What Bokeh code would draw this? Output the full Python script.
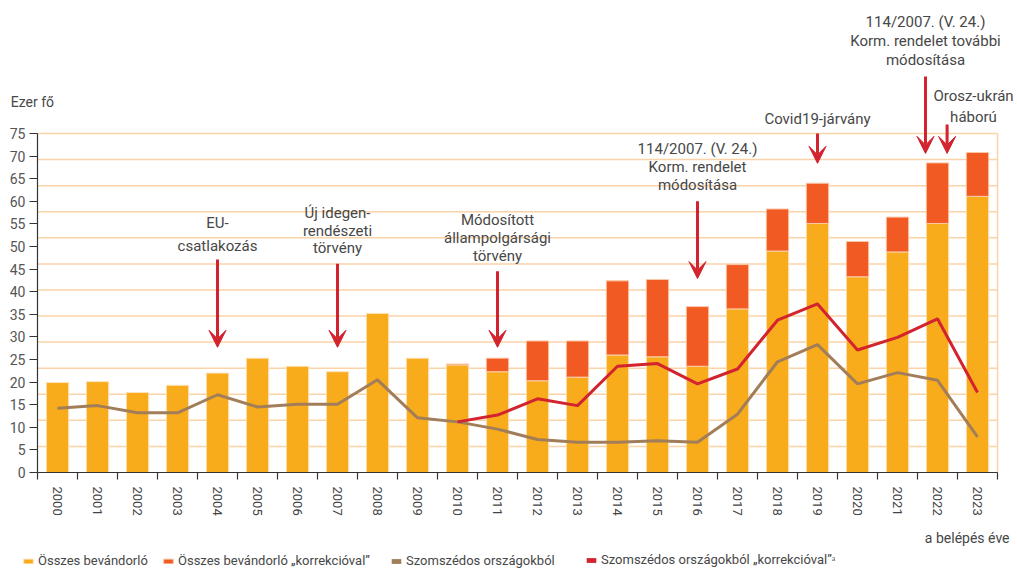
import numpy as np
from bokeh.plotting import figure
from bokeh.models import (FixedTicker, Label, Arrow, VeeHead, Legend, LegendItem,
                          Range1d, ColumnDataSource)
from bokeh.embed import file_html
from bokeh.resources import INLINE

# ---------------- data ----------------
years = list(range(2000, 2024))
osszes = [19.9, 20.1, 17.7, 19.3, 22.0, 25.3, 23.5, 22.3, 35.2, 25.3, 23.8, 22.3,
          20.3, 21.1, 26.0, 25.6, 23.5, 36.2, 49.0, 55.1, 43.3, 48.8, 55.1, 61.1]
osszes_korr = [None] * 10 + [24.0, 25.3, 29.1, 29.1, 42.4, 42.7, 36.7, 46.0,
                             58.3, 64.0, 51.1, 56.5, 68.5, 70.8]
szomszed = [14.2, 14.8, 13.2, 13.2, 17.2, 14.5, 15.1, 15.1, 20.5, 12.1, 11.2, 9.6,
            7.3, 6.7, 6.7, 7.0, 6.7, 12.9, 24.5, 28.3, 19.6, 22.1, 20.4, 7.9]
szomszed_korr = [None] * 10 + [11.2, 12.7, 16.3, 14.8, 23.5, 24.1, 19.6, 22.9,
                               33.7, 37.3, 27.1, 29.9, 34.0, 17.7]
y_ticks = list(range(0, 80, 5))
series_names = ["Összes bevándorló", "Összes bevándorló „korrekcióval”",
                "Szomszédos országokból", "Szomszédos országokból „korrekcióval”ᵃ"]

# annotations: (arrow x, text x, text lines, text y's, arrow start, arrow end)
annotations = [
    (2004, 2004, ["EU-", "csatlakozás"], [55.1, 50.2], 47.1, 27.7),
    (2007, 2007, ["Új idegen-", "rendészeti", "törvény"], [57.4, 53.5, 49.6], 46.2, 27.7),
    (2011, 2011, ["Módosított", "állampolgársági", "törvény"], [55.9, 51.8, 47.9], 44.5, 27.7),
    (2016, 2016, ["114/2007. (V. 24.)", "Korm. rendelet", "módosítása"], [71.5, 67.5, 63.5], 60.0, 42.9),
    (2019, 2019, ["Covid19-járvány"], [78.3], 75.0, 68.4),
    (2021.7, 2021.7, ["114/2007. (V. 24.)", "Korm. rendelet további", "módosítása"], [99.6, 95.4, 91.3], 87.6, 70.6),
    (2022.24, 2022.9, ["Orosz-ukrán", "háború"], [83.4, 78.6], 77.0, 70.6),
]

YELLOW = "#F9AC1B"
ORANGE = "#F15A22"
BROWN = "#A17E59"
RED = "#D2232E"
GRID = "#FBD3A8"
TEXT = "#474747"
AXIS = "#333333"
FONT = "Roboto"

X0, X1 = 1999.5, 2023.5   # category band edges
korr = [np.nan if v is None else v for v in osszes_korr]
skorr = [np.nan if v is None else v for v in szomszed_korr]
src = ColumnDataSource(dict(year=years, osszes=osszes, korr=korr,
                            szomszed=szomszed, skorr=skorr))

W, H = 1015, 569
p = figure(width=W, height=H,
           x_range=Range1d(X0 - 37 / 40, X0 + (W - 37) / 40),
           y_range=Range1d(-(H - 472) / 4.52, 472 / 4.52),
           output_backend="svg", toolbar_location=None,
           min_border_left=0, min_border_right=0, min_border_top=0, min_border_bottom=0)
p.background_fill_color = "white"
p.border_fill_color = "white"
p.outline_line_color = None
p.xgrid.visible = False
p.ygrid.visible = False

# decorative grid: 13 bands between 0 and 75, plus right border
grid_levels = [75 * k / 13 for k in range(1, 14)]
p.segment(x0=X0, x1=X1, y0=grid_levels, y1=grid_levels, line_color=GRID, line_width=1.5)
p.segment(x0=X1, x1=X1, y0=0, y1=75, line_color=GRID, line_width=1.5)

r_y = p.vbar(x="year", top="osszes", bottom=0, width=0.56, source=src,
             fill_color=YELLOW, line_color="#FDE3BE", line_width=1)
r_o = p.vbar(x="year", top="korr", bottom="osszes", width=0.56, source=src,
             fill_color=ORANGE, line_color="#FBC9A8", line_width=1)
p.line(x="year", y="szomszed", source=src, line_color=BROWN, line_width=3)
p.line(x=years[10:], y=szomszed_korr[10:], line_color=RED, line_width=3)

# zero-width bars: only used to give the line series rectangular legend swatches
r_b = p.vbar(x="year", top="szomszed", width=0, source=src, fill_color=BROWN, line_color=None)
r_r = p.vbar(x="year", top="skorr", width=0, source=src, fill_color=RED, line_color=None)

# axes
ya = p.yaxis[0]
ya.fixed_location = X0
ya.bounds = (0, 75)
ya.ticker = FixedTicker(ticks=y_ticks)
ya.major_tick_out = 8
ya.major_tick_in = 0
ya.minor_tick_line_color = None
ya.axis_line_color = AXIS
ya.axis_line_width = 1.2
ya.major_tick_line_color = AXIS
ya.major_label_text_font = FONT
ya.major_label_text_font_size = "14px"
ya.major_label_text_color = "#555555"
ya.major_label_standoff = 4

xa = p.xaxis[0]
xa.fixed_location = 0
xa.bounds = (X0, X1)
xa.ticker = FixedTicker(ticks=years, minor_ticks=[y - 0.5 for y in years] + [years[-1] + 0.5])
xa.major_tick_out = 0
xa.major_tick_in = 0
xa.minor_tick_out = 7
xa.minor_tick_in = 0
xa.minor_tick_line_color = AXIS
xa.minor_tick_line_width = 1.2
xa.axis_line_color = AXIS
xa.axis_line_width = 1.2
xa.major_label_orientation = "vertical"
xa.major_label_text_font = FONT
xa.major_label_text_font_size = "13px"
xa.major_label_text_color = "#444444"
xa.major_label_standoff = 7

# annotations
for ax, tx, lines, ys, y0, y1 in annotations:
    p.add_layout(Arrow(x_start=ax, y_start=y0, x_end=ax, y_end=y1,
                       line_color=RED, line_width=3,
                       end=VeeHead(size=17, fill_color=RED, line_color=RED, line_width=1)))
    for t, yy in zip(lines, ys):
        p.add_layout(Label(x=tx, y=yy, text=t, text_align="center", text_baseline="middle",
                           text_font=FONT, text_font_size="15px", text_color=TEXT))

p.add_layout(Label(x=1998.83, y=81.9, text="Ezer fő", text_align="left",
                   text_baseline="middle", text_font=FONT, text_font_size="14px",
                   text_color=TEXT))
p.add_layout(Label(x=2023.8, y=-14.4, text="a belépés éve", text_align="right",
                   text_baseline="middle", text_font=FONT, text_font_size="14px",
                   text_color=TEXT))

# legends (four separate, placed like the original)
for rend, name, lx in zip([r_y, r_o, r_b, r_r], series_names, [22, 162, 390, 585]):
    lg = Legend(items=[LegendItem(label=name, renderers=[rend])], location=(lx, 1),
                orientation="horizontal", glyph_width=12, glyph_height=6,
                label_standoff=4, padding=0, margin=0, spacing=0,
                border_line_color=None, background_fill_alpha=0,
                label_text_font=FONT, label_text_font_size="13px",
                label_text_color=TEXT, label_height=14)
    p.add_layout(lg)

open("out.html", "w").write(file_html(p, INLINE))
